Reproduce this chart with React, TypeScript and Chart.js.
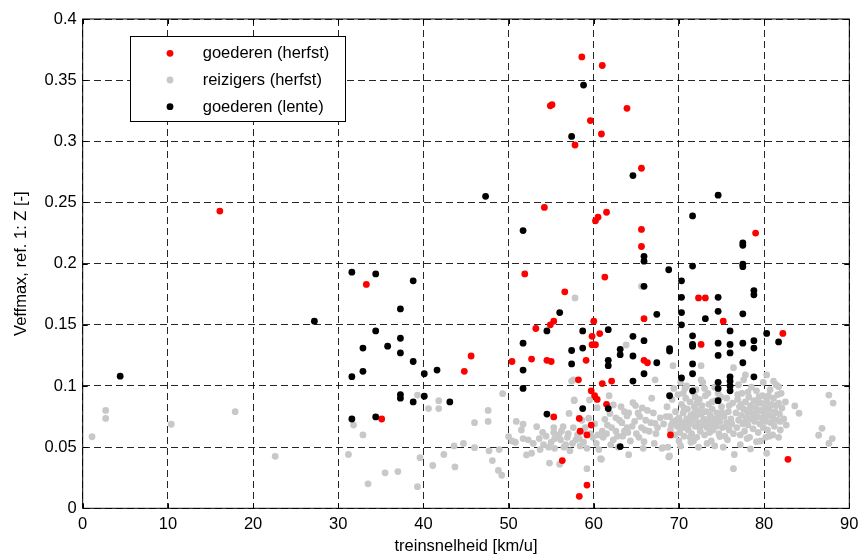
import React, { useEffect, useRef } from "react";
import { Chart, registerables } from "chart.js";

Chart.register(...registerables);

const seriesNames = ["goederen (herfst)", "reizigers (herfst)", "goederen (lente)"];
const seriesColors = ["#ff0000", "#c8c8c8", "#000000"];

const xTitle = "treinsnelheid [km/u]";
const yTitle = "Veffmax, ref. 1: Z [-]";
const xMin = 0, xMax = 90, xStep = 10;
const yMin = 0, yMax = 0.4, yStep = 0.05;

// goederen (herfst) — red
const goederenHerfst: [number, number][] = [
  [16.1, 0.243], [33.3, 0.183], [35.1, 0.073], [44.8, 0.112], [45.6, 0.1245],
  [50.4, 0.12], [51.9, 0.1916], [52.7, 0.122], [53.2, 0.147], [54.2, 0.246],
  [54.5, 0.121], [55.0, 0.12], [54.9, 0.15], [55.3, 0.153], [54.9, 0.329],
  [55.1, 0.33], [55.3, 0.0747], [56.3, 0.039], [56.6, 0.177], [57.8, 0.297],
  [58.2, 0.105], [58.3, 0.0735], [58.4, 0.063], [58.3, 0.0098], [58.6, 0.369],
  [59.1, 0.121], [59.2, 0.06], [59.2, 0.019], [59.6, 0.317], [59.7, 0.068],
  [59.7, 0.096], [59.8, 0.1406], [59.8, 0.1337], [60.2, 0.1337], [60.0, 0.153],
  [60.1, 0.092], [60.4, 0.089], [60.2, 0.235], [60.5, 0.238], [60.7, 0.1428],
  [60.9, 0.306], [61.0, 0.362], [61.0, 0.102], [61.3, 0.189], [61.5, 0.085],
  [61.5, 0.242], [62.1, 0.104], [63.9, 0.327], [65.6, 0.278], [65.6, 0.228],
  [65.6, 0.214], [65.9, 0.155], [65.9, 0.121], [66.3, 0.119], [69.0, 0.06],
  [72.3, 0.172], [73.1, 0.172], [72.6, 0.134], [75.2, 0.153], [79.0, 0.225],
  [82.2, 0.143], [82.8, 0.04],
];

// reizigers (herfst) — grey
const reizigersHerfst: [number, number][] = [
  [1.1, 0.0585], [2.7, 0.08], [2.7, 0.0735], [10.4, 0.0687], [17.9, 0.079], [22.6, 0.0425],
  [31.2, 0.044], [31.8, 0.068], [32.9, 0.06], [33.5, 0.02], [35.5, 0.029], [37.0, 0.03],
  [39.3, 0.0177], [39.3, 0.0926], [39.6, 0.0414], [40.6, 0.0815], [41.8, 0.0815], [41.8, 0.088],
  [41.1, 0.035], [42.4, 0.044], [43.6, 0.051], [43.7, 0.0338], [44.7, 0.053], [46.0, 0.07],
  [46.0, 0.0496], [47.6, 0.08], [47.6, 0.071], [47.7, 0.047], [48.1, 0.039], [48.8, 0.031],
  [49.2, 0.027], [48.9, 0.048], [49.3, 0.0937],
  [50.0, 0.0586], [50.4, 0.055], [50.9, 0.071], [50.8, 0.054], [51.7, 0.0687], [51.5, 0.064],
  [51.7, 0.057], [52.3, 0.056], [52.1, 0.0436], [52.7, 0.045], [52.9, 0.053], [53.3, 0.0667],
  [53.6, 0.057], [53.7, 0.048], [54.1, 0.052], [54.4, 0.059], [54.7, 0.05], [54.8, 0.037],
  [55.3, 0.062], [55.3, 0.066], [55.4, 0.057], [55.4, 0.049], [55.9, 0.06], [56.1, 0.056],
  [56.0, 0.036], [56.4, 0.0667], [56.5, 0.05], [56.9, 0.058], [57.1, 0.0776], [57.2, 0.047],
  [57.6, 0.066], [57.7, 0.0886], [57.9, 0.056], [58.1, 0.06], [58.4, 0.051], [58.8, 0.054],
  [58.7, 0.063], [59.2, 0.0324], [59.2, 0.049], [59.4, 0.0736], [59.5, 0.0886], [59.9, 0.058],
  [60.1, 0.069], [60.3, 0.053], [60.4, 0.0823], [60.6, 0.048], [60.9, 0.04], [61.0, 0.063],
  [61.1, 0.058], [61.3, 0.0727], [61.8, 0.092], [61.9, 0.0776], [62.1, 0.066], [62.3, 0.056],
  [62.3, 0.0845], [62.6, 0.063], [63.0, 0.072], [63.2, 0.083], [63.4, 0.059], [63.6, 0.063],
  [63.9, 0.066], [63.9, 0.0755], [64.1, 0.078], [64.3, 0.055], [64.6, 0.0863], [64.8, 0.071],
  [65.0, 0.061], [65.2, 0.078], [65.4, 0.075], [65.6, 0.066], [65.9, 0.0545], [65.7, 0.082],
  [66.1, 0.072], [66.5, 0.063], [66.8, 0.09], [67.0, 0.078], [67.2, 0.0695], [67.3, 0.061],
  [68.0, 0.049], [68.2, 0.069], [68.5, 0.075], [68.7, 0.05], [68.8, 0.042],
  [57.8, 0.172], [57.6, 0.105], [57.4, 0.104], [57.7, 0.088], [65.6, 0.1815], [63.8, 0.1335],
  [67.2, 0.105], [69.3, 0.1166], [72.6, 0.1166], [76.4, 0.115], [77.8, 0.109], [80.3, 0.109],
  [81.1, 0.104], [81.7, 0.0994], [72.6, 0.105], [70.7, 0.098],
  [83.6, 0.0837], [84.1, 0.0777], [87.6, 0.0926], [88.1, 0.086], [86.8, 0.0654], [86.4, 0.0597],
  [88.0, 0.057], [87.6, 0.053], [82.6, 0.068], [76.4, 0.0324], [80.3, 0.045], [68.9, 0.0428],
  [68.1, 0.0496], [64.1, 0.0438], [60.8, 0.0406],
  [70.2, 0.051], [72.3, 0.0499], [74.2, 0.051], [75.2, 0.0499], [76.5, 0.044], [77.2, 0.052],
  [78.4, 0.0485], [79.1, 0.0545], [80.2, 0.058], [81.0, 0.06], [74.8, 0.0586], [73.8, 0.055],
  [71.7, 0.055], [70.0, 0.055],
  [68.6, 0.083], [68.9, 0.075], [69.0, 0.064], [69.2, 0.089], [69.3, 0.071], [69.5, 0.06],
  [69.6, 0.079], [69.8, 0.067], [69.9, 0.093], [70.0, 0.074], [70.1, 0.062], [70.3, 0.085],
  [70.4, 0.07], [70.5, 0.078], [70.6, 0.059], [70.7, 0.066], [70.8, 0.09], [70.9, 0.073],
  [71.0, 0.081], [71.1, 0.064], [71.2, 0.069], [71.3, 0.087], [71.4, 0.076], [71.5, 0.061],
  [71.6, 0.072], [71.7, 0.095], [71.8, 0.083], [71.9, 0.067], [72.0, 0.075], [72.1, 0.058],
  [72.2, 0.08], [72.3, 0.07], [72.4, 0.089], [72.5, 0.063], [72.6, 0.077], [72.7, 0.084],
  [72.8, 0.068], [72.9, 0.073], [73.0, 0.06], [73.1, 0.092], [73.2, 0.079], [73.3, 0.066],
  [73.4, 0.071], [73.5, 0.085], [73.6, 0.062], [73.7, 0.076], [73.8, 0.069], [73.9, 0.081],
  [74.0, 0.064], [74.1, 0.073], [74.3, 0.088], [74.4, 0.067], [74.5, 0.078], [74.7, 0.061],
  [74.8, 0.071], [75.0, 0.083], [75.1, 0.066], [75.3, 0.075], [75.4, 0.059], [75.6, 0.07],
  [75.8, 0.079], [75.9, 0.064], [76.1, 0.073], [76.3, 0.086], [76.4, 0.061], [69.4, 0.098],
  [70.9, 0.1], [72.0, 0.097], [73.4, 0.094], [74.9, 0.091], [71.4, 0.054], [73.3, 0.053],
  [75.7, 0.056], [72.8, 0.103], [70.2, 0.103], [74.2, 0.099],
  [69.7, 0.072], [70.2, 0.066], [70.6, 0.082], [71.0, 0.069], [71.3, 0.058], [71.8, 0.078],
  [72.1, 0.086], [72.4, 0.066], [72.9, 0.079], [73.1, 0.069], [73.6, 0.074], [73.9, 0.087],
  [74.2, 0.07], [74.6, 0.075], [75.1, 0.078], [75.5, 0.067], [75.9, 0.084], [76.2, 0.069],
  [70.5, 0.094], [71.9, 0.091], [73.0, 0.098], [74.6, 0.094], [75.6, 0.09], [69.1, 0.068],
  [76.7, 0.078], [76.8, 0.066], [76.9, 0.089], [77.0, 0.072], [77.1, 0.083], [77.2, 0.06],
  [77.3, 0.076], [77.4, 0.094], [77.5, 0.069], [77.6, 0.081], [77.7, 0.063], [77.8, 0.087],
  [77.9, 0.074], [78.0, 0.079], [78.1, 0.068], [78.2, 0.091], [78.3, 0.058], [78.4, 0.084],
  [78.5, 0.073], [78.6, 0.077], [78.7, 0.065], [78.8, 0.088], [78.9, 0.071], [79.0, 0.082],
  [79.1, 0.096], [79.2, 0.075], [79.3, 0.062], [79.4, 0.08], [79.5, 0.069], [79.6, 0.086],
  [79.7, 0.074], [79.8, 0.092], [79.9, 0.066], [80.0, 0.078], [80.1, 0.083], [80.2, 0.071],
  [80.3, 0.088], [80.4, 0.064], [80.5, 0.076], [80.6, 0.081], [80.7, 0.097], [80.8, 0.07],
  [80.9, 0.085], [81.0, 0.074], [81.1, 0.09], [81.2, 0.067], [81.3, 0.079], [81.4, 0.084],
  [81.5, 0.072], [81.6, 0.093], [81.8, 0.077], [81.9, 0.064], [82.1, 0.082], [82.3, 0.073],
  [82.5, 0.087], [77.0, 0.101], [78.5, 0.099], [79.9, 0.103], [81.4, 0.101], [78.0, 0.057],
  [79.6, 0.055], [81.7, 0.058], [82.0, 0.094], [80.6, 0.059], [77.6, 0.105],
  [77.3, 0.085], [77.8, 0.071], [78.3, 0.081], [78.8, 0.077], [79.2, 0.086], [79.7, 0.08],
  [80.2, 0.075], [80.7, 0.084], [81.2, 0.078], [81.7, 0.086], [78.1, 0.095], [79.4, 0.091],
  [80.5, 0.092], [76.9, 0.093], [81.9, 0.071],
  [60.5, 0.06], [61.6, 0.068], [62.0, 0.052], [62.8, 0.059], [63.3, 0.07], [64.0, 0.062],
  [64.5, 0.067], [65.3, 0.058], [66.0, 0.064], [66.7, 0.07], [67.5, 0.066], [67.8, 0.074],
  [66.3, 0.08], [64.9, 0.084], [63.6, 0.079], [62.6, 0.074], [61.5, 0.061], [65.8, 0.049],
  [67.1, 0.053], [62.9, 0.05],
  [54.0, 0.062], [55.0, 0.054], [56.2, 0.063], [57.0, 0.061], [57.5, 0.053], [58.3, 0.057],
  [59.0, 0.066], [59.6, 0.061], [58.6, 0.072], [56.7, 0.052],
];

// goederen (lente) — black
const goederenLente: [number, number][] = [
  [4.4, 0.108], [27.2, 0.153], [31.6, 0.193], [34.4, 0.1916], [38.8, 0.186], [37.3, 0.163],
  [34.4, 0.145], [37.3, 0.139], [32.9, 0.131], [35.8, 0.1325], [37.3, 0.127], [38.8, 0.12],
  [40.1, 0.11], [41.6, 0.113], [31.6, 0.1076], [32.9, 0.112], [37.3, 0.093], [37.3, 0.09],
  [38.8, 0.087], [40.1, 0.0916], [43.1, 0.087], [31.6, 0.073], [34.4, 0.0747],
  [47.3, 0.255], [51.7, 0.227], [58.8, 0.346], [57.4, 0.304], [64.6, 0.272],
  [65.9, 0.206], [65.9, 0.202], [65.9, 0.1815], [74.6, 0.256], [71.6, 0.239],
  [77.5, 0.217], [77.5, 0.215], [77.5, 0.1995], [77.5, 0.1975], [68.8, 0.195], [71.6, 0.198],
  [70.3, 0.186], [70.3, 0.1725], [74.6, 0.1725], [78.8, 0.178], [78.8, 0.1745], [70.3, 0.16],
  [73.1, 0.155], [74.6, 0.161], [77.5, 0.159], [70.3, 0.15], [76.0, 0.145], [80.3, 0.143],
  [81.7, 0.136], [71.6, 0.141], [71.6, 0.134], [71.6, 0.1325], [74.6, 0.135], [76.0, 0.134],
  [77.5, 0.135], [78.8, 0.137], [78.8, 0.131], [68.9, 0.1285], [68.9, 0.1305], [74.6, 0.125],
  [76.0, 0.127], [71.6, 0.118], [77.5, 0.119], [70.3, 0.1065], [71.6, 0.11], [76.0, 0.1075],
  [78.8, 0.1075], [71.6, 0.096], [74.6, 0.103], [74.6, 0.098], [74.6, 0.088], [76.0, 0.104],
  [76.0, 0.1], [76.0, 0.096], [68.9, 0.092], [67.4, 0.1586], [56.0, 0.16], [54.5, 0.145],
  [58.7, 0.145], [61.7, 0.146], [64.6, 0.1406], [65.9, 0.137], [51.7, 0.135], [58.7, 0.131],
  [57.4, 0.129], [63.1, 0.13], [63.1, 0.1256], [64.6, 0.1245], [67.4, 0.119], [61.7, 0.121],
  [61.7, 0.1166], [57.4, 0.118], [51.7, 0.113], [65.9, 0.11], [64.6, 0.104], [51.7, 0.098],
  [54.5, 0.077], [58.7, 0.0815], [61.7, 0.0815], [63.1, 0.0505],
];

const FONT = "'Liberation Sans', Arial, Helvetica, sans-serif";
const FONT_SIZE = 16.5;

const framePlugin = {
  id: "matlabFrame",
  afterDraw(chart: any) {
    const { ctx, chartArea } = chart;
    const { left, right, top, bottom } = chartArea;
    ctx.save();
    ctx.strokeStyle = "#000";
    ctx.lineWidth = 1;
    ctx.setLineDash([]);
    ctx.strokeRect(left, top, right - left, bottom - top);
    const xs = chart.scales.x;
    const ys = chart.scales.y;
    const tl = 5;
    ctx.beginPath();
    xs.ticks.forEach((t: any) => {
      const px = Math.round(xs.getPixelForValue(t.value)) + 0.5;
      ctx.moveTo(px, bottom);
      ctx.lineTo(px, bottom - tl);
      ctx.moveTo(px, top);
      ctx.lineTo(px, top + tl);
    });
    ys.ticks.forEach((t: any) => {
      const py = Math.round(ys.getPixelForValue(t.value)) + 0.5;
      ctx.moveTo(left, py);
      ctx.lineTo(left + tl, py);
      ctx.moveTo(right, py);
      ctx.lineTo(right - tl, py);
    });
    ctx.stroke();

    const bx = 130.5, by = 36.5, bw = 215, bh = 85;
    ctx.fillStyle = "#fff";
    ctx.fillRect(bx, by, bw, bh);
    ctx.strokeRect(bx, by, bw, bh);
    const rows = [53.3, 80, 106.7];
    ctx.font = `${FONT_SIZE}px ${FONT}`;
    ctx.textBaseline = "middle";
    ctx.textAlign = "left";
    seriesNames.forEach((name, i) => {
      ctx.fillStyle = seriesColors[i];
      ctx.beginPath();
      ctx.arc(170, rows[i], 3.4, 0, Math.PI * 2);
      ctx.fill();
      ctx.fillStyle = "#000";
      ctx.fillText(name, 202.7, rows[i] + 0.5);
    });
    ctx.restore();
  },
};

export default function App() {
  const ref = useRef<HTMLCanvasElement | null>(null);
  useEffect(() => {
    if (!ref.current) return;
    const toPts = (arr: [number, number][]) => arr.map(([x, y]) => ({ x, y }));
    const chart = new Chart(ref.current, {
      type: "scatter",
      data: {
        datasets: [
          {
            label: seriesNames[0],
            data: toPts(goederenHerfst),
            backgroundColor: seriesColors[0],
            borderWidth: 0,
            pointRadius: 3.4,
            order: 2,
          },
          {
            label: seriesNames[1],
            data: toPts(reizigersHerfst),
            backgroundColor: seriesColors[1],
            borderWidth: 0,
            pointRadius: 3.4,
            order: 3,
          },
          {
            label: seriesNames[2],
            data: toPts(goederenLente),
            backgroundColor: seriesColors[2],
            borderWidth: 0,
            pointRadius: 3.4,
            order: 1,
          },
        ],
      },
      options: {
        animation: false,
        responsive: true,
        maintainAspectRatio: false,
        layout: { padding: { top: 19, right: 15.7, left: 0, bottom: 0 } },
        plugins: { legend: { display: false }, tooltip: { enabled: false } },
        scales: {
          x: {
            type: "linear",
            min: xMin,
            max: xMax,
            ticks: {
              stepSize: xStep,
              color: "#000",
              font: { family: FONT, size: FONT_SIZE },
              padding: 6,
              maxRotation: 0,
            },
            grid: { color: "rgba(0,0,0,0.85)", lineWidth: 1, drawTicks: false },
            border: { display: false, dash: [7, 4] },
            title: {
              display: true,
              text: xTitle,
              color: "#000",
              font: { family: FONT, size: FONT_SIZE },
              padding: { top: 0, bottom: 2.5 },
            },
            afterFit: (s: any) => {
              s.height = 50.7;
            },
          },
          y: {
            type: "linear",
            min: yMin,
            max: yMax,
            ticks: {
              stepSize: yStep,
              color: "#000",
              font: { family: FONT, size: FONT_SIZE },
              padding: 6,
              callback: (v: any) => String(parseFloat(Number(v).toFixed(2))),
            },
            grid: { color: "rgba(0,0,0,0.85)", lineWidth: 1, drawTicks: false },
            border: { display: false, dash: [7, 4] },
            title: {
              display: true,
              text: yTitle,
              color: "#000",
              font: { family: FONT, size: FONT_SIZE },
              padding: { top: 11.8, bottom: 0 },
            },
            afterFit: (s: any) => {
              s.width = 82.7;
            },
          },
        },
      },
      plugins: [framePlugin],
    });
    return () => chart.destroy();
  }, []);
  return (
    <div style={{ position: "absolute", left: 0, top: 0, width: 865, height: 559, background: "#fff" }}>
      <canvas ref={ref} />
    </div>
  );
}
